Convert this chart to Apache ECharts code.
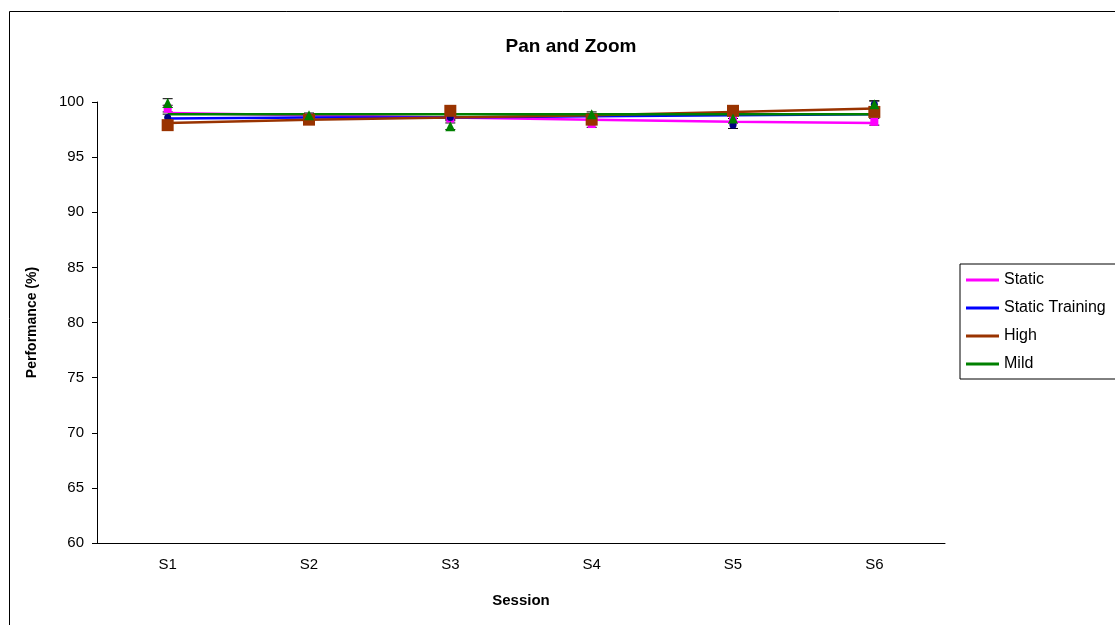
<!DOCTYPE html>
<html>
<head>
<meta charset="utf-8">
<script src="https://cdn.jsdelivr.net/npm/echarts@6/dist/echarts.min.js"></script>
<style>html,body{margin:0;padding:0;background:#fff}#c{width:1115px;height:625px}</style>
</head>
<body>
<div id="c"></div>
<script>
const sessions = ['S1','S2','S3','S4','S5','S6'];
const yTicks = [60,65,70,75,80,85,90,95,100];
// Trend lines (as drawn)
const staticLine = [99.0, 98.8, 98.6, 98.4, 98.2, 98.1];
const trainingLine = [98.5, 98.6, 98.6, 98.7, 98.8, 98.9];
const highLine = [98.1, 98.4, 98.6, 98.8, 99.1, 99.4];
const mildLine = [98.9, 98.9, 98.9, 98.9, 98.9, 98.9];
// Data points (markers)
const staticPts = [99.4, 98.6, 98.5, 98.0, 98.3, 98.2];
const trainingPts = [98.6, 98.5, 98.6, 98.6, 97.9, 99.8];
const highPts = [97.9, 98.4, 99.2, 98.4, 99.2, 99.1];
const mildPts = [99.9, 98.8, 97.8, 98.9, 98.5, 99.8];
// Error half-widths
const staticErr = [0.3, 0.2, 0.2, 0.3, 0.2, 0.3];
const trainingErr = [0.3, 0.2, 0.2, 0.2, 0.3, 0.3];
const highErr = [0.3, 0.2, 0.2, 0.3, 0.2, 0.3];
const mildErr = [0.4, 0.2, 0.3, 0.2, 0.3, 0.3];

const chart = echarts.init(document.getElementById('c'));
const font = 'Liberation Sans, Arial, sans-serif';

function errSeries(pts, err) {
  return {
    type: 'custom', silent: true, clip: false, z: 2,
    data: pts.map((v, i) => [i, v - err[i], v + err[i]]),
    renderItem: function (params, api) {
      const lo = api.coord([api.value(0), api.value(1)]);
      const hi = api.coord([api.value(0), api.value(2)]);
      const w = 5;
      const st = { stroke: '#000', lineWidth: 1 };
      return { type: 'group', children: [
        { type: 'line', shape: { x1: lo[0], y1: lo[1], x2: hi[0], y2: hi[1] }, style: st },
        { type: 'line', shape: { x1: lo[0]-w, y1: lo[1], x2: lo[0]+w, y2: lo[1] }, style: st },
        { type: 'line', shape: { x1: hi[0]-w, y1: hi[1], x2: hi[0]+w, y2: hi[1] }, style: st }
      ]};
    }
  };
}
function lineSeries(name, data, color) {
  return { name: name, type: 'line', data: data, symbol: 'none', clip: false, z: 4,
    lineStyle: { color: color, width: 2.5 }, itemStyle: { color: color } };
}
function markSeries(name, data, color, symbol, size) {
  return { name: name, type: 'scatter', data: data, symbol: symbol, symbolSize: size, clip: false, z: 5,
    itemStyle: { color: color, opacity: 1 } };
}

chart.setOption({
  animation: false,
  backgroundColor: '#fff',
  graphic: [{ type: 'rect', left: 7, top: 9, shape: { width: 1120, height: 630 },
    style: { fill: 'none', stroke: '#000', lineWidth: 1 }, z: -1 }],
  title: { text: 'Pan and Zoom', left: 566, top: 32, textAlign: 'center',
    textStyle: { fontFamily: font, fontSize: 19, fontWeight: 'bold', color: '#000' } },
  legend: {
    orient: 'vertical', left: 960, top: 264, data: ['Static','Static Training','High','Mild'],
    icon: 'rect', itemWidth: 33, itemHeight: 3, itemGap: 12,
    borderColor: '#000', borderWidth: 1, padding: [8, 40, 7, 6],
    textStyle: { fontFamily: font, fontSize: 16, color: '#000' }
  },
  grid: { left: 97, right: 170, top: 102, bottom: 82 },
  xAxis: {
    type: 'category', data: sessions, boundaryGap: true,
    axisLine: { lineStyle: { color: '#000' } },
    axisTick: { lineStyle: { color: '#000' }, length: 5, alignWithLabel: false },
    axisLabel: { fontFamily: font, fontSize: 15, color: '#000', margin: 14 },
    name: 'Session', nameLocation: 'middle', nameGap: 50,
    nameTextStyle: { fontFamily: font, fontSize: 15, fontWeight: 'bold', color: '#000' }
  },
  yAxis: {
    type: 'value', min: 60, max: 100, interval: 5,
    axisLine: { show: true, lineStyle: { color: '#000' } },
    axisTick: { show: true, lineStyle: { color: '#000' }, length: 5 },
    splitLine: { show: false },
    axisLabel: { fontFamily: font, fontSize: 15, color: '#000', margin: 13,
      formatter: v => yTicks.includes(v) ? String(v) : '' },
    name: 'Performance (%)', nameLocation: 'middle', nameGap: 58, nameRotate: 90,
    nameTextStyle: { fontFamily: font, fontSize: 14, fontWeight: 'bold', color: '#000' }
  },
  series: [
    lineSeries('Static', staticLine, '#FF00FF'),
    lineSeries('Static Training', trainingLine, '#0000FF'),
    lineSeries('High', highLine, '#993300'),
    lineSeries('Mild', mildLine, '#008000'),
    errSeries(staticPts, staticErr),
    errSeries(trainingPts, trainingErr),
    errSeries(highPts, highErr),
    errSeries(mildPts, mildErr),
    markSeries('Static pts', staticPts, '#FF00FF', 'rect', 8),
    markSeries('Static Training pts', trainingPts, '#000080', 'circle', 7),
    markSeries('High pts', highPts, '#993300', 'rect', 12),
    markSeries('Mild pts', mildPts, '#008000', 'triangle', 10)
  ]
});
</script>
</body>
</html>
